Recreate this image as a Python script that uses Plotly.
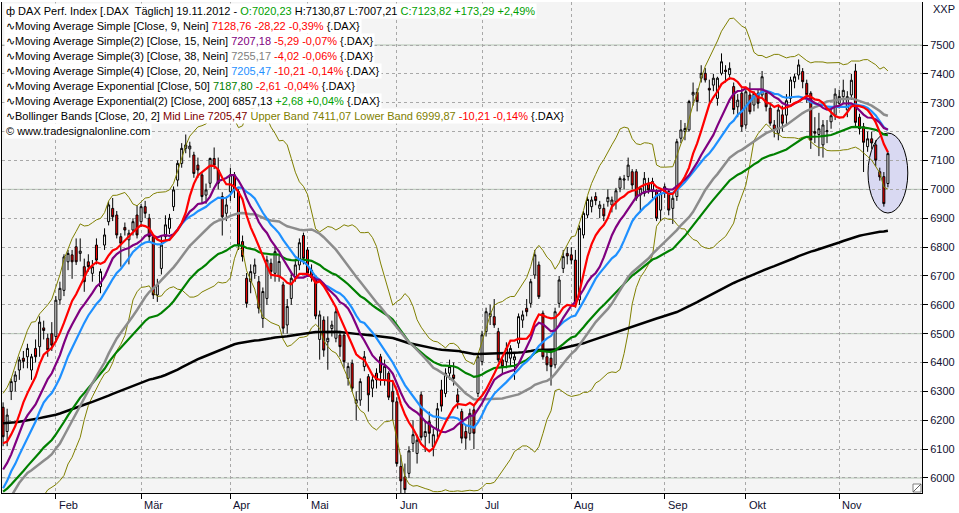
import numpy as np
import pandas as pd
import plotly.graph_objects as go

# ---------------- data ----------------
# closes before the first visible bar (22.11.2011 - 12.01.2012), used for indicator warm-up
pre_close = [5541, 5428, 5493, 5492, 5745, 5801, 6088, 6034, 6080, 6106, 6028, 6002, 5877,
             5986, 5785, 5784, 5675, 5775, 5702, 5670, 5845, 5786, 5841, 5878, 5889, 5771,
             5848, 5898, 6075, 6166, 6111, 6096, 6057, 6017, 6162, 6152, 6180]
EMA50_START = 5945     # EMA(50) value at the left edge
EMA200_START = 6190    # EMA(200) value at the left edge

opens = [6245, 6161, 6300, 6334, 6374, 6415, 6420, 6374, 6449, 6455, 6520, 6484, 6500,
         6490, 6617, 6650, 6749, 6773, 6801, 6778, 6732, 6749, 6709, 6807, 6663, 6807, 6888,
         6934, 6911, 6836, 6868, 6825, 6859, 6911,
         6888, 6940, 6900, 6836, 6634, 6726, 6836, 6865, 6940, 7032, 7090, 7142, 7140, 7119,
         7084, 7050, 6980, 7021, 7107, 7067, 6975, 6917,
         6992, 7050, 6992, 6819, 6692, 6680, 6709, 6680, 6553, 6622, 6744, 6709, 6698, 6669,
         6530, 6622, 6698, 6738, 6840,
         6790, 6720, 6697, 6480, 6547, 6472, 6518, 6484, 6495, 6495, 6345, 6397, 6259, 6270,
         6386, 6351, 6311, 6363, 6420, 6340, 6363, 6300,
         6264, 6040, 6004, 6016, 6120, 6085, 6288, 6143, 6195, 6108, 6166, 6305, 6293, 6363,
         6357, 6288, 6230, 6161, 6155, 6236, 6293,
         6403, 6507, 6559, 6559, 6507, 6409, 6403, 6415, 6409, 6467, 6547, 6588, 6605, 6703,
         6738, 6571, 6420, 6415, 6392, 6605, 6726, 6778,
         6773, 6755, 6617, 6842, 6911, 6940, 6975, 6934, 6934, 6957, 6946, 6957, 7004, 7032,
         7044, 7061, 7061, 6980, 6986, 7021, 6992, 6992, 6928,
         6986, 6992, 6934, 6975, 7177, 7200, 7206, 7327, 7336, 7385, 7402, 7350, 7361, 7315,
         7402, 7413, 7398, 7356, 7286, 7333,
         7223, 7327, 7292, 7333, 7327, 7333, 7281, 7223, 7194, 7258, 7257, 7315, 7373, 7396,
         7408, 7367, 7333, 7200, 7190, 7154, 7200, 7234, 7257,
         7298, 7321, 7275, 7327, 7410, 7250, 7217, 7148, 7175, 7154, 7061, 7044, 7020.23]
highs = [6262, 6240, 6345, 6370, 6420, 6440, 6465, 6430, 6480, 6560, 6545, 6500, 6540,
         6630, 6680, 6775, 6790, 6790, 6830, 6830, 6760, 6775, 6755, 6830, 6725, 6865, 6958,
         6970, 6925, 6848, 6885, 6860, 6900, 6945,
         6950, 6960, 6915, 6845, 6690, 6840, 6910, 6915, 7010, 7100, 7160, 7190, 7165, 7130,
         7110, 7060, 7020, 7110, 7145, 7110, 6990, 6975,
         7075, 7060, 7000, 6840, 6710, 6740, 6760, 6700, 6660, 6770, 6760, 6800, 6770, 6680,
         6620, 6710, 6760, 6830, 6850,
         6800, 6740, 6700, 6580, 6560, 6560, 6545, 6590, 6510, 6500, 6400, 6410, 6300, 6345,
         6440, 6360, 6360, 6380, 6430, 6410, 6370, 6340,
         6280, 6080, 6050, 6110, 6200, 6150, 6300, 6200, 6230, 6170, 6260, 6340, 6380, 6410,
         6400, 6310, 6240, 6185, 6240, 6250, 6430,
         6510, 6590, 6600, 6620, 6520, 6420, 6470, 6460, 6430, 6570, 6580, 6620, 6690, 6790,
         6750, 6580, 6440, 6440, 6590, 6700, 6790, 6800,
         6800, 6790, 6875, 6925, 6975, 6975, 6990, 6960, 6950, 7000, 6975, 7005, 7045, 7050,
         7110, 7070, 7070, 7010, 7060, 7040, 7040, 7000, 7000,
         7020, 7000, 6980, 7175, 7240, 7230, 7310, 7370, 7350, 7430, 7420, 7380, 7400, 7390,
         7471, 7430, 7440, 7370, 7330, 7350,
         7345, 7370, 7340, 7345, 7410, 7340, 7300, 7240, 7290, 7290, 7330, 7390, 7400, 7450,
         7420, 7380, 7340, 7250, 7265, 7240, 7240, 7280, 7350,
         7345, 7380, 7340, 7400, 7435, 7262, 7230, 7200, 7200, 7170, 7075, 7060, 7130.87]
lows = [6110, 6110, 6270, 6300, 6340, 6380, 6380, 6340, 6400, 6420, 6480, 6420, 6440,
        6470, 6600, 6630, 6720, 6690, 6738, 6750, 6645, 6715, 6680, 6740, 6640, 6790, 6875,
        6890, 6830, 6732, 6840, 6740, 6840, 6830,
        6870, 6900, 6820, 6620, 6610, 6705, 6820, 6845, 6925, 7010, 7075, 7125, 7110, 7040,
        7040, 6950, 6950, 7005, 7070, 7000, 6840, 6890,
        6960, 6970, 6790, 6750, 6590, 6640, 6690, 6570, 6520, 6600, 6690, 6680, 6680, 6500,
        6500, 6600, 6680, 6720, 6740,
        6700, 6680, 6550, 6410, 6420, 6375, 6490, 6470, 6420, 6380, 6320, 6300, 6200, 6250,
        6370, 6230, 6280, 6310, 6320, 6320, 6270, 6200,
        6040, 5940, 5920, 6000, 6090, 6050, 6130, 6090, 6120, 6075, 6140, 6230, 6280, 6340,
        6320, 6240, 6120, 6100, 6130, 6100, 6280,
        6390, 6490, 6530, 6520, 6400, 6360, 6380, 6390, 6340, 6450, 6520, 6560, 6590, 6690,
        6620, 6410, 6370, 6320, 6380, 6590, 6710, 6740,
        6740, 6590, 6600, 6830, 6900, 6920, 6945, 6900, 6890, 6940, 6920, 6930, 6990, 7000,
        7030, 7000, 6960, 6920, 6975, 6985, 6970, 6890, 6890,
        6970, 6910, 6880, 6960, 7160, 7170, 7200, 7290, 7270, 7370, 7370, 7300, 7340, 7290,
        7395, 7370, 7380, 7260, 7250, 7200,
        7210, 7260, 7270, 7280, 7320, 7270, 7220, 7180, 7170, 7200, 7220, 7300, 7350, 7380,
        7350, 7300, 7140, 7160, 7115, 7110, 7160, 7210, 7240,
        7280, 7300, 7250, 7310, 7215, 7190, 7060, 7130, 7140, 7080, 7030, 6940, 7007.21]
closes = [6143, 6218, 6334, 6357, 6409, 6404, 6449, 6420, 6420, 6540, 6511, 6444, 6460,
          6616, 6657, 6766, 6778, 6749, 6749, 6786, 6680, 6732, 6732, 6755, 6715, 6842, 6946,
          6905, 6842, 6813, 6859, 6848, 6888, 6842,
          6940, 6917, 6836, 6634, 6669, 6807, 6877, 6900, 6998, 7090, 7142, 7154, 7150, 7055,
          7067, 6975, 6998, 7107, 7084, 7021, 6905, 6946,
          7050, 6998, 6807, 6767, 6605, 6715, 6738, 6588, 6646, 6755, 6715, 6784, 6750, 6519,
          6594, 6692, 6738, 6815, 6761,
          6710, 6694, 6561, 6565, 6443, 6484, 6530, 6576, 6455, 6403, 6386, 6311, 6271, 6334,
          6420, 6288, 6340, 6340, 6365, 6387, 6280, 6264,
          6050, 5990, 5960, 6094, 6150, 6131, 6141, 6161, 6155, 6150, 6240, 6249, 6363, 6386,
          6345, 6263, 6138, 6138, 6224, 6155, 6420,
          6496, 6576, 6570, 6530, 6409, 6386, 6449, 6449, 6420, 6559, 6565, 6576, 6680, 6773,
          6628, 6420, 6392, 6386, 6576, 6686, 6767, 6769,
          6755, 6605, 6865, 6917, 6965, 6963, 6961, 6946, 6908, 6972, 6963, 6995, 7038, 7036,
          7084, 7015, 6969, 7004, 7038, 6998, 7027, 6900, 6986,
          7009, 6928, 6969, 7165, 7206, 7211, 7304, 7336, 7304, 7402, 7379, 7344, 7385, 7385,
          7442, 7408, 7419, 7276.58, 7309, 7217,
          7338, 7269, 7333, 7298, 7390, 7286, 7229, 7206, 7275, 7229, 7307, 7379, 7390, 7431,
          7373, 7328.02, 7171, 7194.5, 7210, 7223, 7203.2, 7255, 7330,
          7322, 7343, 7321, 7378, 7232, 7210, 7163, 7175, 7160.5, 7101, 7043, 6950.53, 7123.82]

holidays = ["2012-04-06", "2012-04-09", "2012-05-01"]
month_labels = ["Feb", "Mär", "Apr", "Mai", "Jun", "Jul", "Aug", "Sep", "Okt", "Nov"]
y_ticks = list(range(6000, 7600, 100))
y_major = [6000, 6500, 7000, 7500]

# ---------------- indicators ----------------
dates = pd.bdate_range("2012-01-13", "2012-11-19")
dates = dates[~dates.isin(pd.to_datetime(holidays))]
n = len(closes)
x = np.arange(n)
allc = np.array(pre_close + closes, dtype=float)
P = len(pre_close)


def sma(p):
    return np.array([allc[P + i - p + 1:P + i + 1].mean() for i in range(n)])


def ema(p, start):
    a = 2.0 / (p + 1)
    v = start
    out = []
    for c in closes:
        v = v + a * (c - v)
        out.append(v)
    return np.array(out)


sma9, sma15, sma38, sma20 = sma(9), sma(15), sma(38), sma(20)
ema50, ema200 = ema(50, EMA50_START), ema(200, EMA200_START)
sd20 = np.array([allc[P + i - 19:P + i + 1].std() for i in range(n)])
bb_up, bb_lo = sma20 + 2 * sd20, sma20 - 2 * sd20

month_idx = [i for i in range(1, len(dates)) if dates[i].month != dates[i - 1].month]

# ---------------- figure ----------------
fig = go.Figure()
fig.add_trace(go.Candlestick(
    x=x, open=opens, high=highs, low=lows, close=closes,
    increasing=dict(fillcolor="white", line=dict(color="black", width=1)),
    decreasing=dict(fillcolor="#ff0000", line=dict(color="black", width=1)),
    whiskerwidth=0, hoverinfo="skip"))


def line(y, color, width):
    fig.add_trace(go.Scatter(x=x, y=y, mode="lines", line=dict(color=color, width=width),
                             hoverinfo="skip"))


line(bb_up, "#808000", 1)
line(bb_lo, "#808000", 1)
line(ema200, "#000000", 2.5)
line(ema50, "#008000", 2.2)
line(sma38, "#8c8c8c", 2.5)
line(sma20, "#1e90ff", 2.2)
line(sma15, "#800080", 2.2)
line(sma9, "#ff0000", 2.2)

L, R, T, B = 2, 37, 2, 20
W, H = 959, 513
pw, ph = W - L - R, H - T - B


def px(xp):
    return (xp - L) / pw


def py(yp):
    return 1 - (yp - T) / ph


shapes = []
for v in y_major:
    shapes.append(dict(type="line", xref="paper", x0=0, x1=1, yref="y", y0=v, y1=v,
                       line=dict(color="#b4c6b4", width=1), layer="between"))
shapes.append(dict(type="circle", xref="x", yref="y", x0=n - 5.9, x1=n + 3.9, y0=6918, y1=7195,
                   fillcolor="#d9d9f2", line=dict(color="black", width=1), layer="below"))
# small resize grip in the lower right corner of the plot
shapes.append(dict(type="rect", xref="paper", yref="paper", x0=px(913), x1=px(921),
                   y0=py(492), y1=py(484), fillcolor="white",
                   line=dict(color="#808080", width=1), layer="above"))
shapes.append(dict(type="line", xref="paper", yref="paper", x0=px(913), x1=px(921),
                   y0=py(492), y1=py(484), line=dict(color="#606060", width=1), layer="above"))

GREEN, RED = "#00a000", "#ff0000"


def sp(t, c):
    return f'<span style="color:{c}">{t}</span>'


legend_lines = [
    "ф DAX Perf. Index [.DAX  Täglich] 19.11.2012 - " + sp("O:7020,23", GREEN)
    + " H:7130,87 L:7007,21 " + sp("C:7123,82 +173,29 +2,49%", GREEN),
    "∿Moving Average Simple [Close, 9, Nein] " + sp("7128,76", RED) + " "
    + sp("-28,22 -0,39%", RED) + " {.DAX}",
    "∿Moving Average Simple(2) [Close, 15, Nein] " + sp("7207,18", "#800080") + " "
    + sp("-5,29 -0,07%", RED) + " {.DAX}",
    "∿Moving Average Simple(3) [Close, 38, Nein] " + sp("7255,17", "#808080") + " "
    + sp("-4,02 -0,06%", RED) + " {.DAX}",
    "∿Moving Average Simple(4) [Close, 20, Nein] " + sp("7205,47", "#1e90ff") + " "
    + sp("-10,21 -0,14%", RED) + " {.DAX}",
    "∿Moving Average Exponential [Close, 50] " + sp("7187,80", "#008000") + " "
    + sp("-2,61 -0,04%", RED) + " {.DAX}",
    "∿Moving Average Exponential(2) [Close, 200] 6857,13 " + sp("+2,68 +0,04%", GREEN)
    + " {.DAX}",
    "∿Bollinger Bands [Close, 20, 2] " + sp("Mid Line 7205,47", "#800000") + " "
    + sp("Upper Band 7411,07 Lower Band 6999,87", "#808000") + " "
    + sp("-10,21 -0,14%", RED) + " {.DAX}",
    "© www.tradesignalonline.com",
]
annotations = []
for k, t in enumerate(legend_lines):
    annotations.append(dict(text=t, xref="paper", yref="paper", x=px(4), y=py(11 + 15 * k),
                            xanchor="left", yanchor="middle", showarrow=False,
                            bgcolor="white", borderpad=1,
                            font=dict(family="Liberation Sans", size=11, color="black")))
for lbl, i in zip(month_labels, month_idx):
    annotations.append(dict(text=lbl, xref="x", yref="paper", x=i, y=0, yanchor="top",
                            xanchor="left", xshift=1, yshift=-4, showarrow=False,
                            font=dict(family="Liberation Sans", size=11, color="#101030")))
annotations.append(dict(text="XXP", xref="paper", yref="paper", x=px(931), y=py(9),
                        xanchor="left", yanchor="middle", showarrow=False,
                        font=dict(family="Liberation Sans", size=11, color="#101030")))

fig.update_layout(
    width=W, height=H, margin=dict(l=L, r=R, t=T, b=B),
    paper_bgcolor="white", plot_bgcolor="#f4f4f4", showlegend=False,
    font=dict(family="Liberation Sans", size=11, color="#101030"),
    shapes=shapes, annotations=annotations, hovermode=False,
)
fig.update_xaxes(range=[-0.27, 226.4], tickvals=month_idx, showticklabels=False,
                 ticks="outside", ticklen=5, tickcolor="black",
                 showgrid=True, gridcolor="#a8a8a8", griddash="dot", gridwidth=1,
                 showline=True, linecolor="black", linewidth=1, zeroline=False,
                 rangeslider=dict(visible=False))
fig.update_yaxes(side="right", range=[5948, 7649], tickvals=y_ticks,
                 ticks="outside", ticklen=5, tickcolor="black",
                 showgrid=True, gridcolor="#a8a8a8", griddash="dot", gridwidth=1,
                 showline=True, mirror=True, linecolor="black", linewidth=1, zeroline=False,
                 tickfont=dict(family="Liberation Sans", size=11, color="#101030"))

fig.write_html("out.html", config={"displayModeBar": False},
               post_script="document.body.style.margin='0';document.body.style.overflow='hidden';")
